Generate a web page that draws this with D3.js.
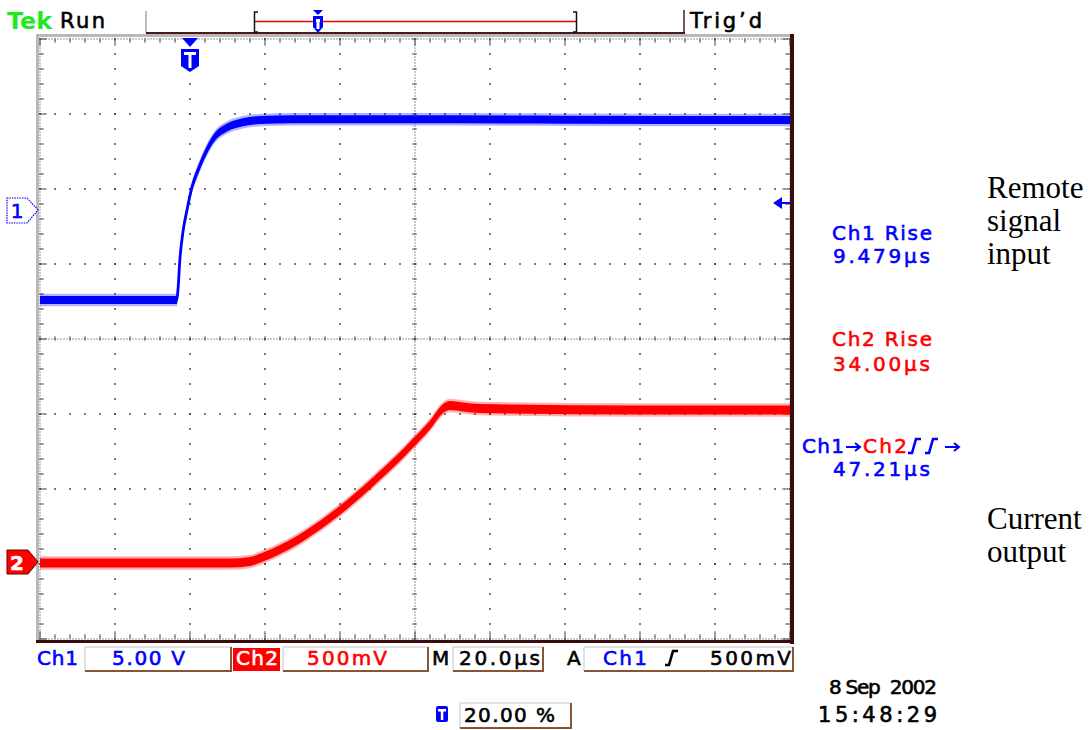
<!DOCTYPE html>
<html>
<head>
<meta charset="utf-8">
<script src="https://cdn.jsdelivr.net/npm/d3@7"></script>
<style>
body { margin: 0; background: #fff; }
text { font-family: "DejaVu Sans", sans-serif; }
text.note { font-family: "Liberation Serif", "Times New Roman", serif; }
</style>
</head>
<body>
<svg width="1092" height="730"></svg>
<script>
// trace samples: time in µs (0 = trigger), level in volts
var ch1Time  = [-40, -3.5, -3.2, -2.7, -1.9, -0.8, 0.5, 1.9, 3.2, 4.5, 6.7, 9.9, 14.1, 18.7, 27.5, 56, 100, 160];
var ch1Volts = [-6.0, -6.0, -5.3, -3.3, -1.5, 0.0, 1.5, 2.5, 3.3, 4.0, 4.9, 5.5, 5.85, 6.0, 6.05, 6.05, 6.02, 6.0];
var ch2Time  = [-40, 10.7, 16, 19.5, 24, 28.5, 32.8, 37.3, 41.9, 46.1, 50.7, 55.2, 59.5, 64, 67.5, 69.3, 72.8, 77.3, 120, 160];
var ch2Volts = [0.0, 0.0, 0.01, 0.04, 0.09, 0.15, 0.22, 0.30, 0.39, 0.48, 0.585, 0.69, 0.80, 0.92, 1.03, 1.05, 1.04, 1.03, 1.02, 1.02];

// scope settings and readouts
var measLabels = ["Ch1 Rise", "Ch2 Rise"];
var measValues = ["9.479µs", "34.00µs", "47.21µs"];
var chScales   = ["5.00 V", "500mV"];
var timeBase   = "20.0µs";
var trigLevel  = "500mV";
var trigPos    = "20.00 %";
var stamp      = ["8 Sep\u00a0\u00a02002", "15:48:29"];
var notes1     = ["Remote", "signal", "input"];
var notes2     = ["Current", "output"];

var svg = d3.select("svg");
var BLUE = "#0000ff", RED = "#ff0000";

// 20 µs/div, 10 divisions; 5 V/div and 500 mV/div
var x  = d3.scaleLinear().domain([-40, 160]).range([40, 790]);
var y1 = d3.scaleLinear().domain([0, 5]).range([210, 135]);
var y2 = d3.scaleLinear().domain([0, 0.5]).range([563, 488]);
var gy = d3.scaleLinear().domain([-4, 4]).range([639, 39]);
var gx = d3.scaleLinear().domain([-5, 5]).range([40, 790]);

// ---- graticule frame (bevel) ----
svg.append("rect").attr("x", 36).attr("y", 34).attr("width", 757).attr("height", 3).attr("fill", "#b8b8b8");
svg.append("rect").attr("x", 36).attr("y", 34).attr("width", 3).attr("height", 609).attr("fill", "#b8b8b8");
svg.append("rect").attr("x", 790).attr("y", 34).attr("width", 4).attr("height", 610).attr("fill", "#3a0c0c");
svg.append("rect").attr("x", 36).attr("y", 640).attr("width", 758).attr("height", 3).attr("fill", "#3a0c0c");

var grat = svg.append("g").attr("fill", "#333");
function dot(px, py, s) {
    s = s || 1.6;
    grat.append("rect").attr("x", px - s / 2).attr("y", py - s / 2).attr("width", s).attr("height", s);
}

// dotted major lines
d3.range(-3, 4).forEach(function(j) {
    if (j === 0) return;
    d3.range(0, 51).forEach(function(k) { dot(40 + 15 * k, gy(j)); });
});
d3.range(-4, 5).forEach(function(i) {
    if (i === 0) return;
    d3.range(0, 41).forEach(function(k) { dot(gx(i), 39 + 15 * k); });
});

// center cross and edges: dense dots with ticks
function hRule(py, dir, big) {
    for (var px = 40; px <= 790; px += 3) dot(px, py, 1);
    d3.range(0, 51).forEach(function(k) {
        var len = (k % 5 === 0 && big) ? 7 : 4;
        var from = dir === 0 ? -len / 2 : 0;
        var to = dir === 0 ? len / 2 : dir * len;
        for (var d = Math.min(from, to); d <= Math.max(from, to); d += 1.5) dot(40 + 15 * k, py + d, 1.2);
    });
}
function vRule(px, dir, big) {
    for (var py = 39; py <= 639; py += 3) dot(px, py, 1);
    d3.range(0, 41).forEach(function(k) {
        var len = (k % 5 === 0 && big) ? 7 : 4;
        var from = dir === 0 ? -len / 2 : 0;
        var to = dir === 0 ? len / 2 : dir * len;
        for (var d = Math.min(from, to); d <= Math.max(from, to); d += 1.5) dot(px + d, 39 + 15 * k, 1.2);
    });
}
hRule(gy(0), 0, false);
vRule(gx(0), 0, false);
hRule(gy(4), 1, true);
hRule(gy(-4), -1, true);
vRule(gx(-5), 1, true);
vRule(gx(5), -1, true);

// ---- traces (band = vertical noise) ----
function trace(times, volts, ys, color, half) {
    var pts = times.map(function(t, i) { return [t, volts[i]]; });
    var band = function(h) {
        return d3.area()
            .x(function(d) { return x(d[0]); })
            .y0(function(d) { return ys(d[1]) + h; })
            .y1(function(d) { return ys(d[1]) - h; })
            .curve(d3.curveMonotoneX);
    };
    var g = svg.append("g");
    g.append("path").datum(pts).attr("d", band(half + 2.2)).attr("fill", color).attr("opacity", 0.3);
    g.append("path").datum(pts).attr("d", band(half)).attr("fill", color);
    g.append("path").datum(pts)
        .attr("d", d3.line().x(function(d) { return x(d[0]); }).y(function(d) { return ys(d[1]); }).curve(d3.curveMonotoneX))
        .attr("fill", "none").attr("stroke", color).attr("stroke-width", 2.8);
}
trace(ch1Time, ch1Volts, y1, BLUE, 4);
trace(ch2Time, ch2Volts, y2, RED, 4.5);

// ---- text helper ----
function tek(px, py, str, color, size, len, anchor) {
    var t = svg.append("text").attr("x", px).attr("y", py).text(str)
        .attr("fill", color).attr("font-size", size)
        .attr("stroke", color).attr("stroke-width", 0.6)
        .attr("text-anchor", anchor || "start");
    if (len) t.attr("textLength", len).attr("lengthAdjust", "spacing");
    return t;
}
function tShape(cx, top, w, h, color) {
    var g = svg.append("g");
    g.append("path").attr("d", "M" + (cx - w / 2) + "," + top + "H" + (cx + w / 2) + "V" + (top + h - 6) +
        "L" + cx + "," + (top + h) + "L" + (cx - w / 2) + "," + (top + h - 6) + "Z").attr("fill", color);
    g.append("rect").attr("x", cx - w / 2 + 3).attr("y", top + 3).attr("width", w - 6).attr("height", 3).attr("fill", "#fff");
    g.append("rect").attr("x", cx - 1.5).attr("y", top + 3).attr("width", 3).attr("height", h - 7).attr("fill", "#fff");
}

// ---- top status bar ----
svg.append("text").attr("x", 7).attr("y", 29).text("Tek")
    .attr("fill", "#1ee81e").attr("font-size", 23).attr("font-weight", "bold")
    .attr("textLength", 45).attr("lengthAdjust", "spacingAndGlyphs");
tek(60, 28, "Run", "#000", 21, 45);
tek(690, 28, "Trig’d", "#000", 21, 72);
svg.append("line").attr("x1", 146).attr("x2", 146).attr("y1", 11).attr("y2", 33).attr("stroke", "#aaa").attr("stroke-width", 1.5);
svg.append("line").attr("x1", 146).attr("x2", 685).attr("y1", 33).attr("y2", 33).attr("stroke", "#4a1a1a").attr("stroke-width", 2);
svg.append("line").attr("x1", 684).attr("x2", 684).attr("y1", 10).attr("y2", 33).attr("stroke", "#4a1a1a").attr("stroke-width", 1.5);
svg.append("line").attr("x1", 255).attr("x2", 576).attr("y1", 21.5).attr("y2", 21.5).attr("stroke", "#e00").attr("stroke-width", 1.6);
svg.append("path").attr("d", "M258,12H254.5V32H258").attr("fill", "none").attr("stroke", "#111").attr("stroke-width", 1.5);
svg.append("path").attr("d", "M573,12H576.5V32H573").attr("fill", "none").attr("stroke", "#111").attr("stroke-width", 1.5);
svg.append("path").attr("d", "M313,10H323L318,15Z").attr("fill", BLUE);
tShape(318, 16, 10, 17, BLUE);

// trigger position marker on graticule
svg.append("path").attr("d", "M182,38H198L190,47Z").attr("fill", BLUE);
tShape(190, 49, 18, 23, BLUE);

// channel ground markers
svg.append("path").attr("d", "M7,198H27L38,210L27,223H7Z")
    .attr("fill", "#fff").attr("stroke", BLUE).attr("stroke-width", 1.2).attr("stroke-dasharray", "1.5,1");
tek(17, 218, "1", BLUE, 20, null, "middle");
svg.append("path").attr("d", "M7,550H28L38,562L28,574H7Z").attr("fill", RED).attr("stroke", "#600").attr("stroke-width", 1);
tek(17, 570, "2", "#fff", 20, null, "middle").attr("font-weight", "bold");

// trigger level arrow
svg.append("path").attr("d", "M773,203L782,197V209Z").attr("fill", BLUE);
svg.append("line").attr("x1", 780).attr("x2", 790).attr("y1", 203).attr("y2", 203).attr("stroke", BLUE).attr("stroke-width", 2);

// ---- measurement readouts ----
tek(832, 240, measLabels[0], BLUE, 20, 100);
tek(833, 263, measValues[0], BLUE, 20, 97);
tek(832, 346, measLabels[1], RED, 20, 100);
tek(833, 371, measValues[1], RED, 20, 97);
tek(802, 453, "Ch1", BLUE, 20, 42);
svg.append("path").attr("d", "M846,447H859M855,443L860,447L855,451").attr("fill", "none").attr("stroke", BLUE).attr("stroke-width", 2);
tek(863, 453, "Ch2", RED, 20, 44);
function edge(px, py, color) {
    svg.append("path").attr("d", "M" + px + "," + py + "h4l4,-14h5").attr("fill", "none")
        .attr("stroke", color).attr("stroke-width", 2.6);
}
edge(908, 453, BLUE);
edge(925, 453, BLUE);
svg.append("path").attr("d", "M945,447H958M954,443L959,447L954,451").attr("fill", "none").attr("stroke", BLUE).attr("stroke-width", 2);
tek(833, 476, measValues[2], BLUE, 20, 97);

// ---- bottom settings bar ----
function box(x0, y0, w, h) {
    var g = svg.append("g");
    g.append("rect").attr("x", x0).attr("y", y0).attr("width", w).attr("height", h).attr("fill", "#fff");
    g.append("path").attr("d", "M" + x0 + "," + (y0 + h) + "V" + y0 + "H" + (x0 + w)).attr("fill", "none").attr("stroke", "#c4c4c4").attr("stroke-width", 1);
    g.append("path").attr("d", "M" + x0 + "," + (y0 + h) + "H" + (x0 + w) + "V" + y0).attr("fill", "none").attr("stroke", "#8a5535").attr("stroke-width", 2);
}
tek(37, 665, "Ch1", BLUE, 20, 41);
box(85, 647, 146, 24);
tek(112, 665, chScales[0], BLUE, 20, 73);
svg.append("rect").attr("x", 233).attr("y", 648).attr("width", 47).attr("height", 23).attr("fill", RED);
tek(236, 665, "Ch2", "#fff", 20, 42);
box(283, 647, 145, 24);
tek(307, 665, chScales[1], RED, 20, 80);
tek(432, 665, "M", "#000", 20, 19);
box(453, 647, 90, 24);
tek(459, 665, timeBase, "#000", 20, 81);
tek(567, 665, "A", "#000", 20, 14);
box(584, 647, 209, 24);
tek(603, 665, "Ch1", BLUE, 20, 44);
edge(665, 665, "#000");
tek(710, 665, trigLevel, "#000", 20, 81);

svg.append("rect").attr("x", 436).attr("y", 706).attr("width", 12).attr("height", 16).attr("rx", 2).attr("fill", BLUE);
svg.append("rect").attr("x", 438).attr("y", 709).attr("width", 8).attr("height", 2.5).attr("fill", "#fff");
svg.append("rect").attr("x", 440.8).attr("y", 709).attr("width", 2.5).attr("height", 11).attr("fill", "#fff");
box(460, 703, 111, 25);
tek(464, 722, trigPos, "#000", 20, 91);
tek(937, 694, stamp[0], "#000", 20, 108, "end");
tek(937, 722, stamp[1], "#000", 21, 119, "end");

// ---- annotations ----
notes1.forEach(function(s, i) {
    svg.append("text").attr("class", "note").attr("x", 987).attr("y", 198 + i * 33).text(s)
        .attr("font-size", 31).attr("fill", "#000");
});
notes2.forEach(function(s, i) {
    svg.append("text").attr("class", "note").attr("x", 987).attr("y", 529 + i * 33).text(s)
        .attr("font-size", 31).attr("fill", "#000");
});
</script>
</body>
</html>
